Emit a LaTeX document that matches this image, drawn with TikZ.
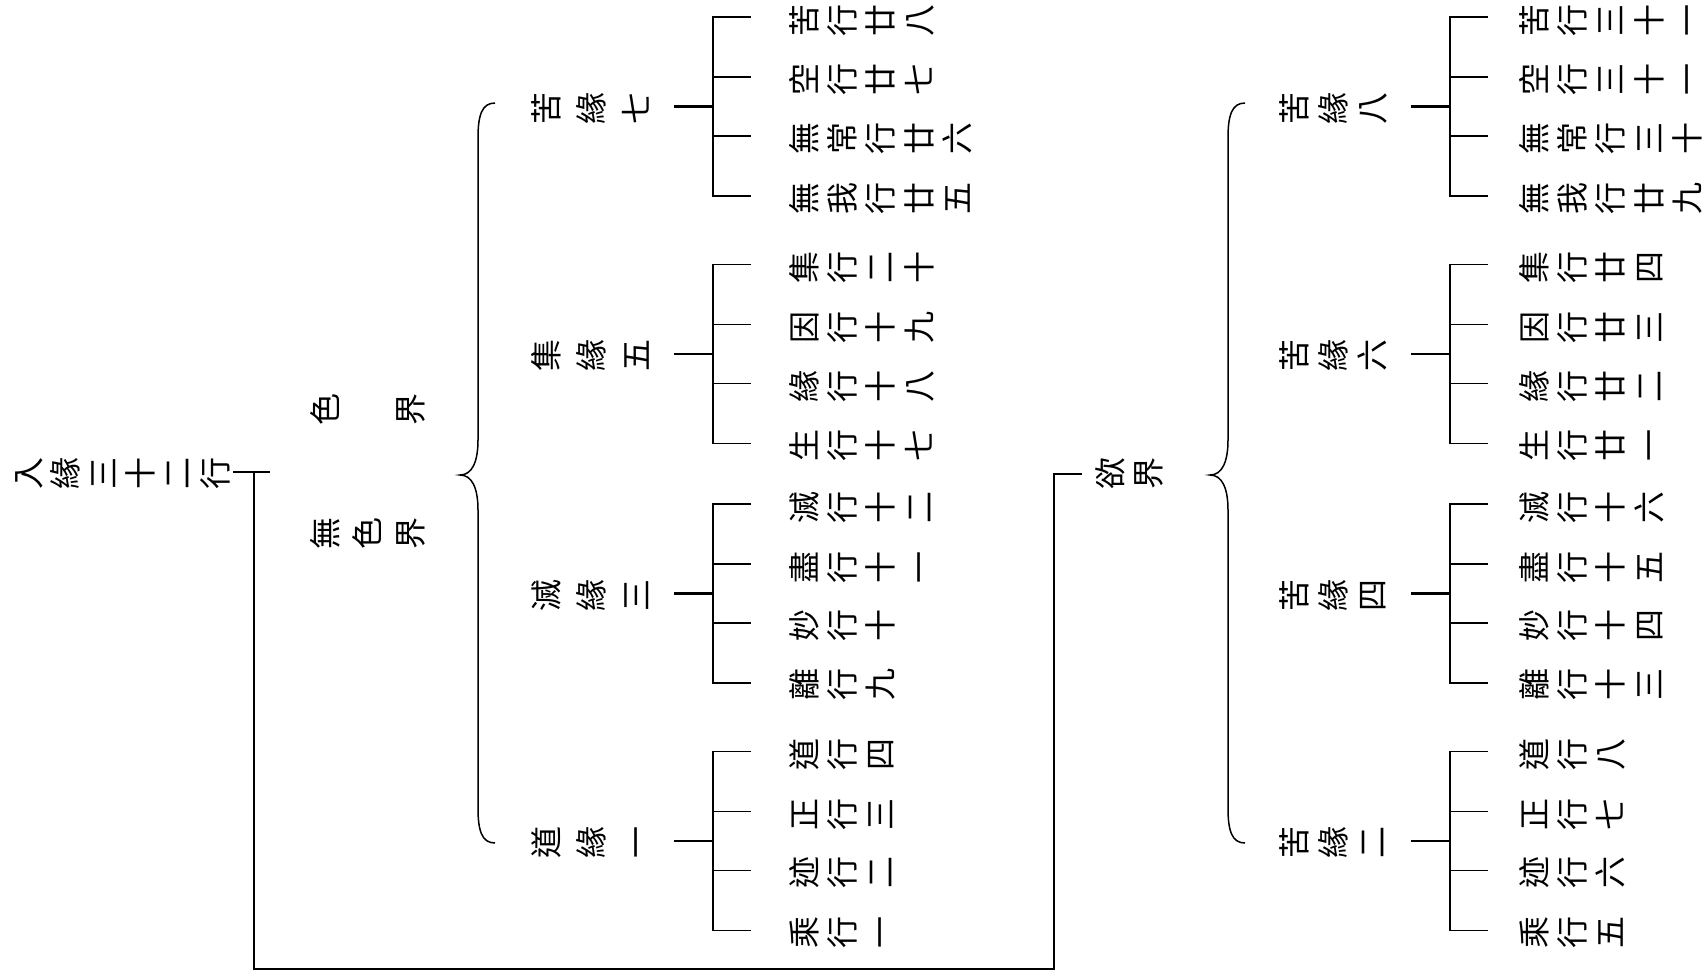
\documentclass[tikz,border=0pt]{standalone}
\usepackage{fontspec}
\newfontfamily\cjk{Noto Sans CJK TC}
\newcommand\zs{\rule[-0.12em]{0pt}{1em}}
\newcommand\grp[3]{% #1 prefix, #2 bracket x, #3 centre y
  \coordinate (#1s) at (#2-39,#3);
  \coordinate (#1b) at (#2,#3);
  \coordinate (#1v1) at (#2,#3-89.5);
  \coordinate (#1v2) at (#2,#3-29.5);
  \coordinate (#1v3) at (#2,#3+29.5);
  \coordinate (#1v4) at (#2,#3+89.5);
  \coordinate (#1e1) at (#2+38,#3-89.5);
  \coordinate (#1e2) at (#2+38,#3-29.5);
  \coordinate (#1e3) at (#2+38,#3+29.5);
  \coordinate (#1e4) at (#2+38,#3+89.5);
  \draw[stub] (#1s) -- (#1b);
  \draw[brk] (#1e1) -- (#1v1) -- (#1v4) -- (#1e4);
  \draw[brk] (#1v2) -- (#1e2) (#1v3) -- (#1e3);
}
\newcommand\mybrace[1]{% #1 tip x
  \draw[brc] (#1+35,103) .. controls (#1+22,103) and (#1+18,115) .. (#1+18,138)
    -- (#1+18,440) .. controls (#1+18,462) and (#1+12,475) .. (#1,475)
    .. controls (#1+12,475) and (#1+18,488) .. (#1+18,510)
    -- (#1+18,808) .. controls (#1+18,831) and (#1+22,843) .. (#1+35,843);
}
\begin{document}
\begin{tikzpicture}[x=1pt,y=-1pt,
  vt/.style={rotate=90,anchor=north,inner sep=0pt,align=center},
  leaf/.style={vt,font=\cjk\fontsize{32}{38.3}\selectfont},
  labL/.style={vt,font=\cjk\fontsize{32}{45}\selectfont},
  labR/.style={vt,font=\cjk\fontsize{32}{39}\selectfont},
  ttl/.style={vt,font=\cjk\fontsize{32}{37.4}\selectfont},
  jie/.style={vt,font=\cjk\fontsize{32}{42.5}\selectfont},
  yu/.style={vt,font=\cjk\fontsize{32}{38}\selectfont},
  stub/.style={line width=2.6pt},
  brk/.style={line width=1.7pt},
  brc/.style={line width=1.5pt},
  conn/.style={line width=1.5pt}]
\useasboundingbox (0,0) rectangle (1705,978);

% title and realms
\node[ttl] (title) at (12,473) {\zs 入\\\zs 緣\\\zs 三\\\zs 十\\\zs 二\\\zs 行};
\node[jie] (se) at (309,409) {\zs 色\\\zs\\\zs 界};
\node[jie] (wuse) at (309,533) {\zs 無\\\zs 色\\\zs 界};
\node[yu] (yujie) at (1094,473) {\zs 欲\\\zs 界};

% main connector
\coordinate (tA) at (233,472);
\coordinate (tB) at (270,472);
\coordinate (tC) at (254,472);
\coordinate (tD) at (254,969);
\coordinate (tE) at (1054,969);
\coordinate (tF) at (1054,474);
\coordinate (tG) at (1082,474);
\draw[conn] (tA) -- (tB);
\draw[conn] (tC) -- (tD) -- (tE) -- (tF) -- (tG);

% braces
\mybrace{460}
\mybrace{1210}

% left groups
\grp{La}{713}{106.5}
\grp{Lb}{713}{354}
\grp{Lc}{713}{593.5}
\grp{Ld}{713}{841}
\node[labL] (la) at (530,108) {\zs 苦\\\zs 緣\\\zs 七};
\node[labL] (lb) at (530,355) {\zs 集\\\zs 緣\\\zs 五};
\node[labL] (lc) at (530,595) {\zs 滅\\\zs 緣\\\zs 三};
\node[labL] (ld) at (530,842) {\zs 道\\\zs 緣\\\zs 一};

\node[leaf] (la1) at (788,20) {\zs 苦\\\zs 行\\\zs 廿\\\zs 八};
\node[leaf] (la2) at (788,79) {\zs 空\\\zs 行\\\zs 廿\\\zs 七};
\node[leaf] (la3) at (788,138) {\zs 無\\\zs 常\\\zs 行\\\zs 廿\\\zs 六};
\node[leaf] (la4) at (788,198) {\zs 無\\\zs 我\\\zs 行\\\zs 廿\\\zs 五};
\node[leaf] (lb1) at (788,267) {\zs 集\\\zs 行\\\zs 二\\\zs 十};
\node[leaf] (lb2) at (788,327) {\zs 因\\\zs 行\\\zs 十\\\zs 九};
\node[leaf] (lb3) at (788,386) {\zs 緣\\\zs 行\\\zs 十\\\zs 八};
\node[leaf] (lb4) at (788,445) {\zs 生\\\zs 行\\\zs 十\\\zs 七};
\node[leaf] (lc1) at (788,507) {\zs 滅\\\zs 行\\\zs 十\\\zs 二};
\node[leaf] (lc2) at (788,567) {\zs 盡\\\zs 行\\\zs 十\\\zs 一};
\node[leaf] (lc3) at (788,625) {\zs 妙\\\zs 行\\\zs 十};
\node[leaf] (lc4) at (788,684) {\zs 離\\\zs 行\\\zs 九};
\node[leaf] (ld1) at (788,754) {\zs 道\\\zs 行\\\zs 四};
\node[leaf] (ld2) at (788,814) {\zs 正\\\zs 行\\\zs 三};
\node[leaf] (ld3) at (788,872) {\zs 迹\\\zs 行\\\zs 二};
\node[leaf] (ld4) at (788,932) {\zs 乘\\\zs 行\\\zs 一};

% right groups
\grp{Ra}{1450}{106.5}
\grp{Rb}{1450}{354}
\grp{Rc}{1450}{593.5}
\grp{Rd}{1450}{841}
\node[labR] (ra) at (1278,108) {\zs 苦\\\zs 緣\\\zs 八};
\node[labR] (rb) at (1278,355) {\zs 苦\\\zs 緣\\\zs 六};
\node[labR] (rc) at (1278,595) {\zs 苦\\\zs 緣\\\zs 四};
\node[labR] (rd) at (1278,842) {\zs 苦\\\zs 緣\\\zs 二};

\node[leaf] (ra1) at (1518,20) {\zs 苦\\\zs 行\\\zs 三\\\zs 十\\\zs 一};
\node[leaf] (ra2) at (1518,79) {\zs 空\\\zs 行\\\zs 三\\\zs 十\\\zs 一};
\node[leaf] (ra3) at (1518,138) {\zs 無\\\zs 常\\\zs 行\\\zs 三\\\zs 十};
\node[leaf] (ra4) at (1518,198) {\zs 無\\\zs 我\\\zs 行\\\zs 廿\\\zs 九};
\node[leaf] (rb1) at (1518,267) {\zs 集\\\zs 行\\\zs 廿\\\zs 四};
\node[leaf] (rb2) at (1518,327) {\zs 因\\\zs 行\\\zs 廿\\\zs 三};
\node[leaf] (rb3) at (1518,386) {\zs 緣\\\zs 行\\\zs 廿\\\zs 二};
\node[leaf] (rb4) at (1518,445) {\zs 生\\\zs 行\\\zs 廿\\\zs 一};
\node[leaf] (rc1) at (1518,507) {\zs 滅\\\zs 行\\\zs 十\\\zs 六};
\node[leaf] (rc2) at (1518,567) {\zs 盡\\\zs 行\\\zs 十\\\zs 五};
\node[leaf] (rc3) at (1518,625) {\zs 妙\\\zs 行\\\zs 十\\\zs 四};
\node[leaf] (rc4) at (1518,684) {\zs 離\\\zs 行\\\zs 十\\\zs 三};
\node[leaf] (rd1) at (1518,754) {\zs 道\\\zs 行\\\zs 八};
\node[leaf] (rd2) at (1518,814) {\zs 正\\\zs 行\\\zs 七};
\node[leaf] (rd3) at (1518,872) {\zs 迹\\\zs 行\\\zs 六};
\node[leaf] (rd4) at (1518,932) {\zs 乘\\\zs 行\\\zs 五};
\end{tikzpicture}
\end{document}
